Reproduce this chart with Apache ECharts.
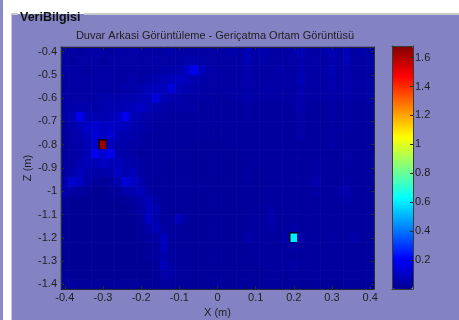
<!DOCTYPE html>
<html>
<head>
<meta charset="utf-8">
<script src="https://cdn.jsdelivr.net/npm/echarts@6/dist/echarts.min.js"></script>
<style>
html,body{margin:0;padding:0;background:#fff;}
#c{width:459px;height:320px;}
</style>
</head>
<body>
<div id="c"></div>
<script>
// X positions (m) of the image columns
const xCats = [-0.40,-0.38,-0.36,-0.34,-0.32,-0.30,-0.28,-0.26,-0.24,-0.22,
  -0.20,-0.18,-0.16,-0.14,-0.12,-0.10,-0.08,-0.06,-0.04,-0.02,
  0.00,0.02,0.04,0.06,0.08,0.10,0.12,0.14,0.16,0.18,
  0.20,0.22,0.24,0.26,0.28,0.30,0.32,0.34,0.36,0.38,0.40];
// Z positions (m) of the image rows, top to bottom
const zCats = [-0.40,-0.44,-0.48,-0.52,-0.56,-0.60,-0.64,-0.68,-0.72,-0.76,
  -0.80,-0.84,-0.88,-0.92,-0.96,-1.00,-1.04,-1.08,-1.12,-1.16,
  -1.20,-1.24,-1.28,-1.32,-1.36,-1.40];
// Intensity values (x 0.01), one row per Z position
const intensity = [
  [4,4,3,4,4,4,3,4,4,4, 4,4,4,4,5,4,4,4,4,4, 4,4,5,4,7,5,6,4,4,4, 5,7,4,4,5,7,4,7,4,5, 4],
  [4,3,4,4,4,3,4,4,4,4, 4,4,5,4,4,4,5,6,4,4, 4,4,4,4,7,4,5,4,4,4, 4,6,4,4,4,6,4,7,4,4, 4],
  [4,4,4,3,4,4,4,4,4,4, 4,4,4,5,5,6,10,18,8,5, 4,4,4,4,6,4,4,4,5,4, 4,6,4,4,4,7,4,6,4,4, 4],
  [3,4,4,4,4,4,4,4,4,5, 4,5,6,7,8,10,8,6,5,4, 4,4,4,4,6,4,4,4,4,4, 4,7,4,4,4,6,4,6,4,4, 4],
  [4,4,4,4,4,4,4,4,5,5, 6,7,8,8,14,7,6,5,4,4, 4,4,4,4,5,4,4,5,4,4, 4,6,4,4,4,6,4,6,4,4, 4],
  [4,4,4,4,4,5,5,5,6,6, 7,8,14,7,6,5,4,4,4,4, 3,3,4,4,5,4,4,4,4,4, 4,6,4,4,4,5,4,5,4,4, 4],
  [4,5,6,5,5,6,6,6,7,8, 10,7,6,5,4,4,4,4,3,3, 3,3,3,3,4,3,3,3,3,3, 4,5,3,3,3,4,3,4,3,3, 3],
  [4,7,18,8,6,6,7,10,18,7, 6,5,4,4,3,3,3,3,3,3, 3,3,3,3,4,3,3,3,3,3, 3,4,3,3,3,4,3,4,3,3, 3],
  [3,5,7,10,12,10,10,10,8,6, 5,4,3,3,3,3,3,3,3,3, 3,3,3,3,3,3,3,3,3,3, 3,4,3,3,3,4,3,4,3,3, 3],
  [3,4,6,8,13,10,12,7,6,5, 4,3,3,3,3,3,3,3,3,3, 2,3,3,3,3,3,3,3,3,3, 3,4,3,3,3,4,3,3,3,3, 3],
  [3,4,5,7,12,165,8,6,5,4, 4,3,3,3,3,3,3,2,2,2, 2,2,3,3,3,3,3,3,3,3, 3,3,3,3,3,4,3,3,3,3, 3],
  [3,4,5,7,18,12,18,6,5,4, 3,3,3,3,3,2,2,2,2,2, 2,2,2,3,3,3,3,3,3,3, 3,3,3,3,3,3,3,4,3,3, 3],
  [3,4,6,8,7,10,7,8,6,5, 4,3,3,3,2,2,2,2,2,2, 2,2,2,2,3,3,3,3,3,3, 3,3,3,4,3,3,3,4,3,3, 3],
  [4,5,8,6,5,5,6,10,6,8, 4,3,3,2,2,2,2,2,2,2, 2,2,2,2,3,2,2,3,3,3, 3,3,3,4,3,3,3,3,3,3, 3],
  [5,12,10,5,3,2,3,6,14,10, 6,3,2,2,2,2,2,2,2,2, 2,2,2,2,3,2,2,3,3,3, 3,3,3,6,3,3,3,4,3,3, 3],
  [6,4,3,2,1,1,2,3,5,6, 8,4,3,2,2,2,2,2,2,2, 2,2,2,2,2,2,3,3,3,3, 3,3,3,4,3,3,4,6,3,3, 3],
  [2,1,1,1,1,1,1,1,2,3, 5,7,4,2,2,2,2,2,2,2, 2,2,2,2,2,2,3,3,3,3, 3,3,3,3,3,3,3,4,3,3, 3],
  [1,1,1,1,1,1,1,1,1,2, 4,8,6,3,2,3,2,2,2,2, 2,2,2,2,2,3,3,4,3,3, 3,3,3,3,3,3,3,3,3,3, 3],
  [1,1,1,1,1,1,1,1,1,1, 3,10,5,3,3,8,3,2,2,2, 2,2,2,2,3,3,3,6,3,3, 3,3,3,3,3,3,3,3,3,3, 3],
  [1,1,1,1,1,1,1,1,1,1, 2,4,7,4,2,3,2,2,2,2, 2,2,2,2,3,3,3,4,3,3, 4,3,3,3,3,3,3,3,3,3, 3],
  [1,1,1,1,1,1,1,1,1,1, 2,3,4,8,3,2,2,2,2,2, 2,2,2,2,5,3,3,3,3,5, 60,5,3,3,3,4,3,3,5,3, 3],
  [1,1,1,1,1,1,1,1,1,1, 1,2,3,8,3,2,2,2,2,2, 2,2,2,2,3,3,3,3,3,3, 4,3,3,3,3,3,3,3,3,3, 3],
  [1,1,1,1,1,1,1,1,1,1, 1,2,3,6,3,2,2,2,2,2, 2,2,2,2,2,3,3,3,3,3, 3,3,3,3,3,3,3,3,3,3, 3],
  [1,1,1,1,1,1,1,1,1,1, 1,1,2,8,4,2,2,2,2,2, 2,2,2,2,2,2,3,3,3,3, 4,3,3,3,3,3,3,3,3,3, 3],
  [2,2,1,1,1,1,1,1,1,1, 1,1,2,4,5,2,2,2,2,2, 2,2,2,2,2,2,2,3,3,2, 3,3,3,3,3,3,3,3,3,3, 3],
  [3,3,2,2,2,3,2,2,2,3, 2,2,2,3,3,2,2,2,2,2, 3,2,2,3,2,2,2,3,2,2, 3,2,2,3,2,2,2,3,2,2, 3]
];
const xTicks = [-0.4,-0.3,-0.2,-0.1,0,0.1,0.2,0.3,0.4];
const zTicks = [-0.4,-0.5,-0.6,-0.7,-0.8,-0.9,-1,-1.1,-1.2,-1.3,-1.4];
const cbTicks = [0.2,0.4,0.6,0.8,1,1.2,1.4,1.6];
const cbMin = 0, cbMax = 1.68;
const titleText = 'Duvar Arkasi Görüntüleme - Geriçatma Ortam Görüntüsü';
const panelText = 'VeriBilgisi';
const xName = 'X (m)';
const zName = 'Z (m)';

const jet = ['#00008F','#0000FF','#0080FF','#00FFFF','#80FF80','#FFFF00','#FF8000','#FF0000','#800000'];

const data = [];
intensity.forEach((row, r) => row.forEach((v, c) => {
  const val = v / 100;
  if (val > 0.5) data.push({value:[c, r, val], itemStyle:{borderColor:'#000', borderWidth:1.4}});
  else data.push([c, r, val]);
}));

const FONT = '"Liberation Sans", Arial, sans-serif';
const TXT = '#1e1e1e';
const PANEL = '#8383C3';

const P = {l:61, t:47, w:313, h:242};
const CB = {l:392, t:46, w:21, h:243};

const chart = echarts.init(document.getElementById('c'), null, {renderer:'canvas'});
chart.setOption({
  animation:false,
  backgroundColor:'#ffffff',
  textStyle:{fontFamily:FONT},
  graphic:[
    {type:'rect', z:-10, shape:{x:0,y:0,width:3,height:320}, style:{fill:'#8A8AC6'}},
    {type:'rect', z:-10, shape:{x:11,y:14,width:448,height:306}, style:{fill:PANEL}},
    {type:'line', z:-9, shape:{x1:11,y1:14,x2:18,y2:14}, style:{stroke:'#c9c9cf',lineWidth:2}},
    {type:'line', z:-9, shape:{x1:84,y1:14,x2:459,y2:14}, style:{stroke:'#c9c9cf',lineWidth:2}},
    {type:'line', z:-9, shape:{x1:11.5,y1:14,x2:11.5,y2:320}, style:{stroke:'#c9c9cf',lineWidth:1}},
    {type:'text', z:10, x:20, y:18, style:{text:panelText, fill:'#111', font:'bold 12.5px '+FONT, textAlign:'left', textVerticalAlign:'middle'}},
    {type:'text', z:10, x:215, y:36, style:{text:titleText, fill:TXT, font:'11px '+FONT, textAlign:'center', textVerticalAlign:'middle'}},
    {type:'text', z:10, x:28, y:168, rotation:Math.PI/2, style:{text:zName, fill:TXT, font:'11px '+FONT, textAlign:'center', textVerticalAlign:'middle'}}
  ],
  grid:[
    {left:P.l, top:P.t, width:P.w, height:P.h, outerBoundsMode:'none', containLabel:false},
    {left:P.l, top:P.t, width:P.w, height:P.h, outerBoundsMode:'none', containLabel:false},
    {left:CB.l, top:CB.t, width:CB.w, height:CB.h, outerBoundsMode:'none', containLabel:false}
  ],
  xAxis:[
    {type:'category', gridIndex:0, data:xCats, show:false},
    {type:'value', gridIndex:1, position:'bottom', min:-0.41, max:0.41, z:6,
      axisLine:{show:true, onZero:false, lineStyle:{color:'#2a2a2a', width:1}},
      axisTick:{show:true, inside:true, length:3, customValues:xTicks, lineStyle:{color:'#2a2a2a'}},
      axisLabel:{show:true, customValues:xTicks, margin:3, color:TXT, fontSize:11, fontFamily:FONT},
      splitLine:{show:false},
      name:xName, nameLocation:'middle', nameGap:18, nameTextStyle:{color:TXT, fontSize:11, fontFamily:FONT}},
    {type:'value', gridIndex:1, position:'top', min:-0.41, max:0.41, z:6,
      axisLine:{show:true, onZero:false, lineStyle:{color:'#2a2a2a', width:1}},
      axisTick:{show:true, inside:true, length:3, customValues:xTicks, lineStyle:{color:'#2a2a2a'}},
      axisLabel:{show:false}, splitLine:{show:false}},
    {type:'value', gridIndex:2, position:'bottom', min:0, max:1, z:6,
      axisLine:{show:true, onZero:false, lineStyle:{color:'#3a3a3a'}}, axisTick:{show:false}, axisLabel:{show:false}, splitLine:{show:false}},
    {type:'value', gridIndex:2, position:'top', min:0, max:1, z:6,
      axisLine:{show:true, onZero:false, lineStyle:{color:'#3a3a3a'}}, axisTick:{show:false}, axisLabel:{show:false}, splitLine:{show:false}}
  ],
  yAxis:[
    {type:'category', gridIndex:0, data:zCats, inverse:true, show:false},
    {type:'value', gridIndex:1, position:'left', min:-1.42, max:-0.38, z:6,
      axisLine:{show:true, onZero:false, lineStyle:{color:'#2a2a2a', width:1}},
      axisTick:{show:true, inside:true, length:3, customValues:zTicks, lineStyle:{color:'#2a2a2a'}},
      axisLabel:{show:true, customValues:zTicks, margin:4, color:TXT, fontSize:11, fontFamily:FONT},
      splitLine:{show:false}},
    {type:'value', gridIndex:1, position:'right', min:-1.42, max:-0.38, z:6,
      axisLine:{show:true, onZero:false, lineStyle:{color:'#2a2a2a', width:1}},
      axisTick:{show:true, inside:true, length:3, customValues:zTicks, lineStyle:{color:'#2a2a2a'}},
      axisLabel:{show:false}, splitLine:{show:false}},
    {type:'value', gridIndex:2, position:'right', min:cbMin, max:cbMax, z:6,
      axisLine:{show:true, onZero:false, lineStyle:{color:'#3a3a3a'}},
      axisTick:{show:true, inside:true, length:3, customValues:cbTicks, lineStyle:{color:'#2a2a2a'}},
      axisLabel:{show:true, customValues:cbTicks, margin:2, color:TXT, fontSize:11, fontFamily:FONT},
      splitLine:{show:false}},
    {type:'value', gridIndex:2, position:'left', min:cbMin, max:cbMax, z:6,
      axisLine:{show:true, onZero:false, lineStyle:{color:'#3a3a3a'}},
      axisTick:{show:false}, axisLabel:{show:false}, splitLine:{show:false}}
  ],
  visualMap:{
    type:'continuous', min:cbMin, max:cbMax, seriesIndex:0, calculable:false, hoverLink:false,
    orient:'vertical', left:CB.l, top:CB.t, itemWidth:CB.w, itemHeight:CB.h, padding:0,
    inRange:{color:jet}, textStyle:{color:'transparent'}
  },
  series:[{
    type:'heatmap', xAxisIndex:0, yAxisIndex:0, data:data,
    emphasis:{disabled:true}, progressive:0
  }]
});
</script>
</body>
</html>
